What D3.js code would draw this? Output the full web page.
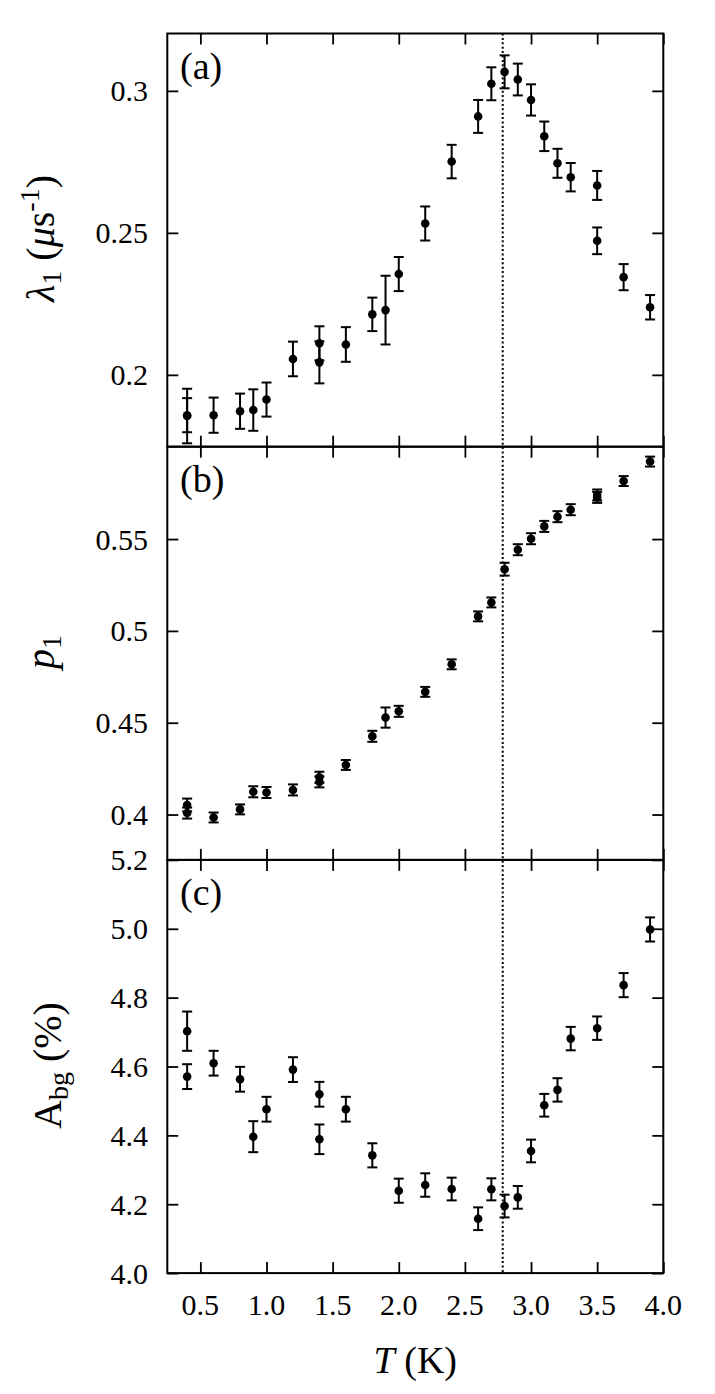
<!DOCTYPE html>
<html>
<head>
<meta charset="utf-8">
<script src="https://cdn.jsdelivr.net/npm/d3@7"></script>
<style>
html,body{margin:0;padding:0;background:#fff;}
svg{display:block;}
</style>
</head>
<body>
<svg id="chart" width="715" height="1394"></svg>
<script>
// ---------- data ----------
const xTicks = [0.5, 1.0, 1.5, 2.0, 2.5, 3.0, 3.5, 4.0];
const xTickLabels = ["0.5", "1.0", "1.5", "2.0", "2.5", "3.0", "3.5", "4.0"];
const Tc = 2.786;

// panel (a): lambda_1
const aT = [0.4, 0.4, 0.6, 0.8, 0.9, 1.0, 1.2, 1.4, 1.4, 1.6, 1.8, 1.9, 2.0, 2.2, 2.4, 2.6, 2.7, 2.8, 2.9, 3.0, 3.1, 3.2, 3.3, 3.5, 3.5, 3.7, 3.9];
const aV = [0.1855, 0.1858, 0.1858, 0.1872, 0.1876, 0.1913, 0.2056, 0.2111, 0.2044, 0.2107, 0.2213, 0.2228, 0.2355, 0.2533, 0.2751, 0.2910, 0.3025, 0.3067, 0.3040, 0.2968, 0.2840, 0.2745, 0.2696, 0.2667, 0.2472, 0.2344, 0.2238];
const aE = [0.0096, 0.0060, 0.0062, 0.0062, 0.0073, 0.0060, 0.0061, 0.0060, 0.0074, 0.0061, 0.0059, 0.0121, 0.0060, 0.0060, 0.0059, 0.0058, 0.0058, 0.0058, 0.0056, 0.0055, 0.0052, 0.0051, 0.0050, 0.0051, 0.0047, 0.0046, 0.0043];
const aTicks = [0.2, 0.25, 0.3];
const aTickLabels = ["0.2", "0.25", "0.3"];

// panel (b): p_1
const bT = [0.4, 0.4, 0.6, 0.8, 0.9, 1.0, 1.2, 1.4, 1.4, 1.6, 1.8, 1.9, 2.0, 2.2, 2.4, 2.6, 2.7, 2.8, 2.9, 3.0, 3.1, 3.2, 3.3, 3.5, 3.5, 3.7, 3.9];
const bV = [0.4052, 0.4008, 0.3984, 0.4028, 0.4124, 0.4120, 0.4134, 0.4203, 0.4178, 0.4270, 0.4426, 0.4528, 0.4562, 0.4668, 0.4818, 0.5079, 0.5155, 0.5336, 0.5442, 0.5502, 0.5569, 0.5622, 0.5660, 0.5727, 0.5740, 0.5816, 0.5922];
const bE = [0.0035, 0.0030, 0.0027, 0.0027, 0.0030, 0.0030, 0.0030, 0.0030, 0.0030, 0.0027, 0.0030, 0.0055, 0.0030, 0.0027, 0.0027, 0.0027, 0.0027, 0.0035, 0.0030, 0.0030, 0.0030, 0.0030, 0.0030, 0.0030, 0.0030, 0.0027, 0.0027];
const bTicks = [0.4, 0.45, 0.5, 0.55];
const bTickLabels = ["0.4", "0.45", "0.5", "0.55"];

// panel (c): A_bg
const cT = [0.4, 0.4, 0.6, 0.8, 0.9, 1.0, 1.2, 1.4, 1.4, 1.6, 1.8, 2.0, 2.2, 2.4, 2.6, 2.7, 2.8, 2.9, 3.0, 3.1, 3.2, 3.3, 3.5, 3.7, 3.9];
const cV = [4.7026, 4.5707, 4.6096, 4.5630, 4.3962, 4.4759, 4.5910, 4.5194, 4.3886, 4.4760, 4.3420, 4.2393, 4.2558, 4.2442, 4.1579, 4.2433, 4.1948, 4.2200, 4.3547, 4.4875, 4.5320, 4.6810, 4.7113, 4.8363, 4.9980];
const cE = [0.057, 0.036, 0.036, 0.036, 0.045, 0.036, 0.036, 0.036, 0.043, 0.036, 0.035, 0.035, 0.034, 0.033, 0.033, 0.032, 0.033, 0.033, 0.033, 0.033, 0.034, 0.034, 0.034, 0.035, 0.035];
const cTicks = [4.0, 4.2, 4.4, 4.6, 4.8, 5.0, 5.2];
const cTickLabels = ["4.0", "4.2", "4.4", "4.6", "4.8", "5.0", "5.2"];

// ---------- layout ----------
const FONT = "'Liberation Serif','Times New Roman',Times,serif";
const left = 167.3, right = 663.3;
const tops = [33.5, 446.7, 859.9];
const panelH = 413.2;
const bottom = tops[2] + panelH;
const tickLen = 11;

const svg = d3.select("#chart");
const x = d3.scaleLinear().domain([0.25, 4.0]).range([left, right]);

const panels = [
  {T: aT, V: aV, E: aE, domain: [0.1747, 0.3202], ticks: aTicks, labels: aTickLabels, tag: "(a)"},
  {T: bT, V: bV, E: bE, domain: [0.3753, 0.6003], ticks: bTicks, labels: bTickLabels, tag: "(b)"},
  {T: cT, V: cV, E: cE, domain: [4.0, 5.2], ticks: cTicks, labels: cTickLabels, tag: "(c)"}
];

// dotted line at transition
svg.append("line")
  .attr("x1", x(Tc)).attr("x2", x(Tc))
  .attr("y1", tops[0]).attr("y2", bottom)
  .attr("stroke", "#000").attr("stroke-width", 2)
  .attr("stroke-dasharray", "2,2.4");

panels.forEach((p, i) => {
  const top = tops[i], bot = top + panelH;
  const y = d3.scaleLinear().domain(p.domain).range([bot, top]);
  const g = svg.append("g");

  // axes via d3 (inward ticks)
  const yl = g.append("g").attr("transform", `translate(${left},0)`)
    .call(d3.axisRight(y).tickValues(p.ticks).tickSize(tickLen).tickFormat(""));
  const yr = g.append("g").attr("transform", `translate(${right},0)`)
    .call(d3.axisLeft(y).tickValues(p.ticks).tickSize(tickLen).tickFormat(""));
  const xt = g.append("g").attr("transform", `translate(0,${top})`)
    .call(d3.axisBottom(x).tickValues(xTicks).tickSize(tickLen).tickFormat(""));
  const xb = g.append("g").attr("transform", `translate(0,${bot})`)
    .call(d3.axisTop(x).tickValues(xTicks).tickSize(tickLen).tickFormat(""));
  [yl, yr, xt, xb].forEach(a => {
    a.select(".domain").remove();
    a.selectAll(".tick line").attr("stroke", "#000").attr("stroke-width", 1.8);
  });

  // frame
  g.append("rect").attr("x", left).attr("y", top)
    .attr("width", right - left).attr("height", panelH)
    .attr("fill", "none").attr("stroke", "#000").attr("stroke-width", 2);

  // y tick labels
  g.selectAll("text.ytl").data(p.ticks).join("text")
    .attr("class", "ytl")
    .attr("x", 148).attr("y", d => y(d)).attr("dy", "0.35em")
    .attr("text-anchor", "end")
    .attr("font-family", FONT).attr("font-size", 30)
    .text((d, k) => p.labels[k]);

  // panel tag
  g.append("text").attr("x", 180).attr("y", top + 45)
    .attr("font-family", FONT).attr("font-size", 38).text(p.tag);

  // error bars
  const pts = p.T.map((t, k) => ({t, v: p.V[k], e: p.E[k]}));
  const eb = g.append("g").attr("stroke", "#000").attr("stroke-width", 2);
  pts.forEach(d => {
    const cx = x(d.t), y1 = y(d.v - d.e), y2 = y(d.v + d.e);
    eb.append("line").attr("x1", cx).attr("x2", cx).attr("y1", y1).attr("y2", y2);
    eb.append("line").attr("x1", cx - 5).attr("x2", cx + 5).attr("y1", y1).attr("y2", y1);
    eb.append("line").attr("x1", cx - 5).attr("x2", cx + 5).attr("y1", y2).attr("y2", y2);
  });
  g.selectAll("circle").data(pts).join("circle")
    .attr("cx", d => x(d.t)).attr("cy", d => y(d.v)).attr("r", 4.3).attr("fill", "#000");
});

// x tick labels
svg.selectAll("text.xtl").data(xTicks).join("text")
  .attr("class", "xtl")
  .attr("x", d => x(d)).attr("y", 1315)
  .attr("text-anchor", "middle")
  .attr("font-family", FONT).attr("font-size", 30)
  .text((d, k) => xTickLabels[k]);

// x axis title
const xt = svg.append("text").attr("x", (left + right) / 2).attr("y", 1373)
  .attr("text-anchor", "middle").attr("font-family", FONT).attr("font-size", 38);
xt.append("tspan").attr("font-style", "italic").text("T");
xt.append("tspan").text(" (K)");

// y axis titles
function yTitle(cx, cy) {
  return svg.append("text")
    .attr("transform", `translate(${cx},${cy}) rotate(-90)`)
    .attr("text-anchor", "middle").attr("font-family", FONT).attr("font-size", 40);
}
const ya = yTitle(54, 238.5);
ya.append("tspan").attr("font-style", "italic").text("λ");
ya.append("tspan").attr("font-size", 28).attr("dy", 7).text("1");
ya.append("tspan").attr("dy", -7).text(" (");
ya.append("tspan").attr("font-style", "italic").text("μ");
ya.append("tspan").text("s");
ya.append("tspan").attr("font-size", 28).attr("dy", -15).text("-1");
ya.append("tspan").attr("dy", 15).text(")");

const yb = yTitle(54, 652);
yb.append("tspan").attr("font-style", "italic").text("p");
yb.append("tspan").attr("font-size", 28).attr("dy", 7).text("1");

const yc = yTitle(61, 1065.5);
yc.append("tspan").text("A");
yc.append("tspan").attr("font-size", 28).attr("dy", 7).text("bg");
yc.append("tspan").attr("dy", -7).text(" (%)");
</script>
</body>
</html>
